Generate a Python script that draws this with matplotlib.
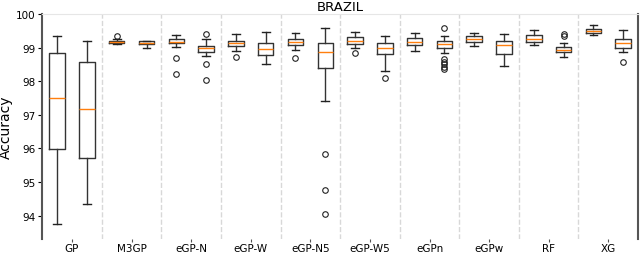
import matplotlib
matplotlib.use("Agg")
import matplotlib.pyplot as plt

categories = ["GP", "M3GP", "eGP-N", "eGP-W", "eGP-N5", "eGP-W5", "eGPn", "eGPw", "RF", "XG"]

# stats for the first (left) box in each group
left_whislo = [93.74, 99.11, 99.02, 98.90, 98.94, 98.98, 98.89, 99.06, 99.08, 99.38]
left_q1     = [95.97, 99.14, 99.13, 99.05, 99.08, 99.11, 99.08, 99.18, 99.18, 99.44]
left_med    = [97.51, 99.18, 99.17, 99.15, 99.18, 99.21, 99.17, 99.26, 99.27, 99.50]
left_q3     = [98.84, 99.21, 99.25, 99.21, 99.26, 99.31, 99.28, 99.34, 99.38, 99.55]
left_whishi = [99.34, 99.26, 99.38, 99.42, 99.45, 99.48, 99.44, 99.44, 99.53, 99.68]
left_fliers = [[], [99.35], [98.70, 98.23], [98.72], [98.70], [98.83], [], [], [], []]

# stats for the second (right) box in each group
right_whislo = [94.34, 98.99, 98.76, 98.52, 97.42, 98.32, 98.83, 98.44, 98.72, 98.86]
right_q1     = [95.71, 99.11, 98.86, 98.79, 98.40, 98.82, 98.99, 98.81, 98.86, 98.98]
right_med    = [97.16, 99.15, 98.99, 98.96, 98.86, 98.99, 99.10, 99.07, 98.94, 99.13]
right_q3     = [98.58, 99.19, 99.06, 99.13, 99.13, 99.14, 99.19, 99.21, 99.01, 99.26]
right_whishi = [99.21, 99.20, 99.27, 99.47, 99.59, 99.36, 99.36, 99.41, 99.14, 99.53]
right_fliers = [[], [], [99.42, 98.52, 98.05], [], [95.85, 94.75, 94.06], [98.09],
                [99.58, 98.66, 98.58, 98.50, 98.42, 98.36], [], [99.41, 99.35], [98.58]]

yticks = [94, 95, 96, 97, 98, 99, 100]

def make_stats(wl, q1, md, q3, wh, fl):
    return [dict(whislo=a, q1=b, med=c, q3=d, whishi=e, fliers=f)
            for a, b, c, d, e, f in zip(wl, q1, md, q3, wh, fl)]

left_stats = make_stats(left_whislo, left_q1, left_med, left_q3, left_whishi, left_fliers)
right_stats = make_stats(right_whislo, right_q1, right_med, right_q3, right_whishi, right_fliers)

fig = plt.figure(figsize=(6.4, 2.55), dpi=100)
ax = fig.add_axes([0.066, 0.058, 0.931, 0.883])

centers = list(range(1, len(categories) + 1))
common = dict(
    widths=0.26, showfliers=True,
    boxprops=dict(color="#333333", linewidth=1.0),
    whiskerprops=dict(color="#333333", linewidth=1.0),
    capprops=dict(color="#222222", linewidth=1.0),
    medianprops=dict(color="#ff7f0e", linewidth=1.0),
    flierprops=dict(marker="o", markersize=4, markerfacecolor="none",
                    markeredgecolor="#222222", markeredgewidth=0.8),
)
ax.bxp(left_stats, positions=[c - 0.25 for c in centers], **common)
ax.bxp(right_stats, positions=[c + 0.25 for c in centers], **common)

ax.set_xlim(0.5, len(categories) + 0.5)
ax.set_ylim(93.3, 100)
ax.set_xticks(centers)
ax.set_xticklabels(categories, fontsize=7.5)
ax.set_xticks([c + 0.5 for c in centers[:-1]], minor=True)
ax.tick_params(axis="x", which="minor", length=0)
ax.tick_params(axis="x", which="major", length=2, pad=1, color="#555555")
ax.grid(axis="x", which="minor", linestyle="--", color="#d8d8d8", linewidth=1.0)
ax.set_yticks(yticks)
ax.set_yticklabels([str(t) for t in yticks], fontsize=7.5)
ax.tick_params(axis="y", length=3, pad=2)
ax.set_ylabel("Accuracy", fontsize=10, labelpad=2)
ax.set_title("BRAZIL", fontsize=9.5, pad=3)

for s in ["left", "right"]:
    ax.spines[s].set_color("#555555")
    ax.spines[s].set_linewidth(1.5)
ax.spines["top"].set_color("#e6e6e6")
ax.spines["bottom"].set_visible(False)

fig.savefig("out.png", dpi=100)
